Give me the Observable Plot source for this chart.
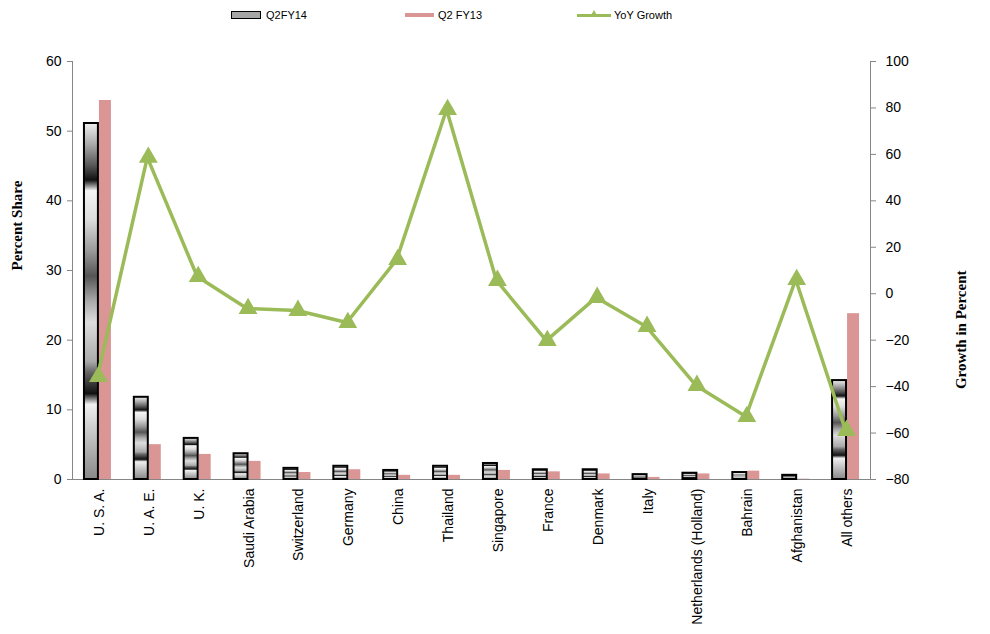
<!DOCTYPE html>
<html>
<head>
<meta charset="utf-8">
<script src="https://cdn.jsdelivr.net/npm/d3@7"></script>
<script src="https://cdn.jsdelivr.net/npm/@observablehq/plot@0.6"></script>
<style>
  html, body { margin: 0; padding: 0; background: #fff; }
  #wrap { position: relative; width: 990px; height: 634px; overflow: hidden; font-family: "Liberation Sans", Arial, sans-serif; }
  #legend { position: relative; width: 990px; height: 30px; font-size: 11px; color: #000; }
  .lg { position: absolute; }
  .lgt { position: absolute; top: 8px; line-height: 14px; }
  #charts { position: relative; width: 990px; height: 604px; }
  #charts > svg, #charts > figure { position: absolute; left: 0; top: 0; margin: 0; }
</style>
</head>
<body>
<svg width="0" height="0" style="position:absolute">
  <defs>
    <linearGradient id="fy14grad" x1="0" y1="0" x2="0" y2="1">
      <stop offset="0" stop-color="#f0f0f0"/>
      <stop offset="0.06" stop-color="#aaaaaa"/>
      <stop offset="0.12" stop-color="#555555"/>
      <stop offset="0.16" stop-color="#111111"/>
      <stop offset="0.19" stop-color="#f5f5f5"/>
      <stop offset="0.27" stop-color="#dddddd"/>
      <stop offset="0.36" stop-color="#999999"/>
      <stop offset="0.43" stop-color="#555555"/>
      <stop offset="0.50" stop-color="#aaaaaa"/>
      <stop offset="0.56" stop-color="#dddddd"/>
      <stop offset="0.67" stop-color="#aaaaaa"/>
      <stop offset="0.70" stop-color="#666666"/>
      <stop offset="0.76" stop-color="#111111"/>
      <stop offset="0.79" stop-color="#f0f0f0"/>
      <stop offset="0.86" stop-color="#cccccc"/>
      <stop offset="1" stop-color="#888888"/>
    </linearGradient>
  </defs>
</svg>
<div id="wrap">
  <div id="legend">
    <div class="lg" style="left:231px;top:11px;width:28px;height:6px;background:#a6a6a6;border:1.5px solid #000;"></div>
    <div class="lgt" style="left:266px;">Q2FY14</div>
    <div class="lg" style="left:405px;top:13px;width:29px;height:4px;background:#d99694;"></div>
    <div class="lgt" style="left:438px;">Q2 FY13</div>
    <div class="lg" style="left:577px;top:14px;width:34px;height:3px;background:#9bbb59;"></div>
    <div class="lg" style="left:590px;top:10px;width:0;height:0;border-left:4px solid transparent;border-right:4px solid transparent;border-bottom:7px solid #9bbb59;"></div>
    <div class="lgt" style="left:614px;">YoY Growth</div>
  </div>
  <div id="charts"></div>
</div>
<script>
const categories = ["U. S. A.", "U. A. E.", "U. K.", "Saudi Arabia", "Switzerland", "Germany", "China", "Thailand", "Singapore", "France", "Denmark", "Italy", "Netherlands (Holland)", "Bahrain", "Afghanistan", "All others"];
const shareQ2FY14 = [51.1, 11.8, 5.9, 3.7, 1.6, 1.9, 1.3, 1.9, 2.3, 1.4, 1.4, 0.7, 0.9, 1.0, 0.6, 14.2];
const shareQ2FY13 = [54.4, 5.0, 3.6, 2.6, 1.0, 1.4, 0.6, 0.6, 1.3, 1.1, 0.8, 0.3, 0.8, 1.2, 0.05, 23.8];
const yoyGrowth = [-35.7, 58.7, 7.4, -6.4, -7.2, -12.4, 14.7, 79.3, 5.7, -20.2, -1.6, -14.1, -39.5, -52.9, 6.1, -58.9];
const leftTicks = [0, 10, 20, 30, 40, 50, 60];
const rightTicks = [-80, -60, -40, -20, 0, 20, 40, 60, 80, 100];

const W = 990, H = 604;
const M = {top: 31, right: 120, bottom: 155, left: 72};
const axisColor = "#868686";
const fontFam = "'Liberation Sans', Arial, sans-serif";

const rows = categories.map((c, i) => ({cat: c, fy14: shareQ2FY14[i], fy13: shareQ2FY13[i], g: yoyGrowth[i]}));

const bars = Plot.plot({
  width: W, height: H,
  marginTop: M.top, marginRight: M.right, marginBottom: M.bottom, marginLeft: M.left,
  style: {background: "transparent", fontFamily: fontFam, fontSize: "14px", color: "#000"},
  x: {type: "band", domain: categories, paddingInner: 0.72, paddingOuter: 0.36, round: false, label: null},
  y: {domain: [0, 60], label: null},
  marks: [
    Plot.frame({anchor: "left", stroke: axisColor}),
    Plot.ruleY([0], {stroke: axisColor}),
    Plot.axisY({ticks: leftTicks, tickSize: 5, tickPadding: 6, stroke: axisColor, fontSize: 14, fill: "#000", label: null}),
    Plot.axisX({tickSize: 0, tickPadding: 9, tickRotate: -90, fontSize: 14, fill: "#000", label: null, dx: 2}),
    Plot.barY(rows, {x: "cat", y: "fy13", fill: "#d99694", dx: 8, insetLeft: 1, insetRight: 1}),
    Plot.barY(rows, {x: "cat", y: "fy14", fill: "url(#fy14grad)", stroke: "#000", strokeWidth: 2, dx: -6}),
    Plot.text(["Percent Share"], {frameAnchor: "left", dx: -55, rotate: -90, fontFamily: "'Liberation Serif', 'Times New Roman', serif", fontWeight: "bold", fontSize: 15, fill: "#000"})
  ]
});

const line = Plot.plot({
  width: W, height: H,
  marginTop: M.top, marginRight: M.right, marginBottom: M.bottom, marginLeft: M.left,
  style: {background: "transparent", fontFamily: fontFam, fontSize: "14px", color: "#000"},
  x: {type: "point", domain: categories, padding: 0.5, round: false, axis: null},
  y: {domain: [-80, 100], label: null},
  marks: [
    Plot.frame({anchor: "right", stroke: axisColor}),
    Plot.axisY({anchor: "right", ticks: rightTicks, tickSize: 5, tickPadding: 10, stroke: axisColor, fontSize: 14, fill: "#000", label: null}),
    Plot.lineY(rows, {x: "cat", y: "g", stroke: "#9bbb59", strokeWidth: 3.5}),
    Plot.dot(rows, {x: "cat", y: "g", symbol: "triangle", r: 7, fill: "#9bbb59", dx: 1}),
    Plot.text(["Growth in Percent"], {frameAnchor: "right", dx: 91, rotate: -90, fontFamily: "'Liberation Serif', 'Times New Roman', serif", fontWeight: "bold", fontSize: 15, fill: "#000"})
  ]
});
line.style.pointerEvents = "none";

const host = document.getElementById("charts");
host.appendChild(bars);
host.appendChild(line);
</script>
</body>
</html>
